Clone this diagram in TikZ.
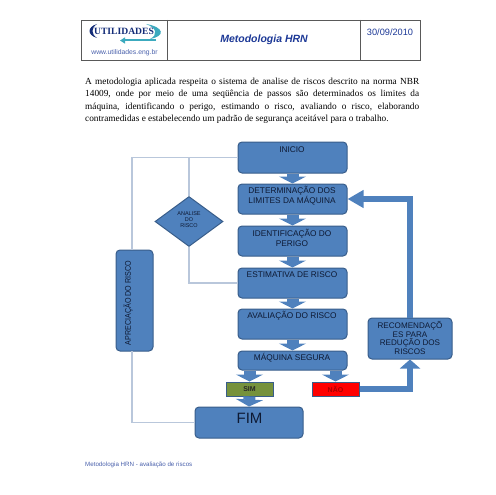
\documentclass[tikz,border=0pt]{standalone}
\usepackage{fontspec}
\setmainfont{Liberation Serif}
\setsansfont{Liberation Sans}
\usetikzlibrary{arrows.meta,shapes.geometric}
\definecolor{BoxBlue}{RGB}{79,129,189}
\definecolor{BoxEdge}{RGB}{56,93,138}
\definecolor{BoxText}{RGB}{14,26,52}
\definecolor{LinkGray}{RGB}{185,199,219}
\definecolor{SimGreen}{RGB}{118,146,60}
\definecolor{TitleBlue}{RGB}{28,56,150}
\definecolor{LogoNavy}{RGB}{20,45,120}
\definecolor{LogoTeal}{RGB}{60,170,190}
\tikzset{
  flowbox/.style={draw=BoxEdge, fill=BoxBlue, line width=1pt, rounded corners=4pt, minimum width=109pt, inner sep=0pt},
  flowtext/.style={font=\sffamily\fontsize{8.3}{10}\selectfont, text=BoxText, align=center, inner sep=0pt},
  answerbox/.style={draw=BoxEdge, line width=1pt, minimum width=47pt, minimum height=14pt, inner sep=0pt, font=\sffamily\bfseries\fontsize{7}{8}\selectfont},
  linkline/.style={draw=LinkGray, line width=1.1pt},
  stagearrow/.style={draw=BoxBlue, line width=12pt, -{Triangle[width=27pt,length=7pt]}},
  backarrow/.style={draw=BoxBlue, line width=5.5pt},
}

\begin{document}
\begin{tikzpicture}[x=1pt, y=-1pt]
      \useasboundingbox (0,0) rectangle (495,495);

      % page header
      \draw[draw=black!65, line width=0.9pt] (81,20) rectangle (420,60);
      \draw[draw=black!65, line width=0.9pt] (167,20) -- (167,60);
      \draw[draw=black!65, line width=0.9pt] (360,20) -- (360,60);
      \fill[LogoNavy] (97,24) .. controls (87,27) and (87,35) .. (97,38) .. controls (91,34) and (91,28) .. (97,24);
      \fill[LogoTeal] (146,24) .. controls (164,27) and (166,36) .. (150,39) .. controls (158,35) and (157,28) .. (146,24);
      \draw[LogoTeal, line width=2pt, -{Triangle[width=6pt,length=5pt]}] (156,40.5) -- (120,40.5);
      \node[font=\bfseries\fontsize{9.6}{12}\selectfont, text=LogoNavy, inner sep=0pt] (logo) at (124,31) {UTILIDADES};
      \node[font=\sffamily\fontsize{6.8}{8}\selectfont, text=TitleBlue!80, inner sep=0pt] (site) at (124.5,53) {www.utilidades.eng.br};
      \node[font=\sffamily\bfseries\itshape\fontsize{10.5}{12}\selectfont, text=TitleBlue, inner sep=0pt] (title) at (264,40) {Metodologia HRN};
      \node[font=\sffamily\fontsize{9.2}{11}\selectfont, text=TitleBlue, inner sep=0pt] (date) at (390,32) {30/09/2010};

      \node[font=\fontsize{9.3}{12.2}\selectfont, text width=334pt, align=justify, inner sep=0pt, anchor=north west] (intro) at (85,78)
        {A metodologia aplicada respeita o sistema de analise de riscos descrito na norma NBR\linebreak
         14009, onde por meio de uma seqüência de passos são determinados os limites da\linebreak
         máquina, identificando o perigo, estimando o risco, avaliando o risco, elaborando\linebreak
         contramedidas e estabelecendo um padrão de segurança aceitável para o trabalho.};

      % flow boxes
      \node[flowbox, minimum height=31pt] (inicio) at (292.5,157.5) {};
      \node[flowbox, minimum height=30pt] (limites) at (292.5,199) {};
      \node[flowbox, minimum height=30pt] (perigo) at (292.5,241) {};
      \node[flowbox, minimum height=30pt] (estimativa) at (292.5,283) {};
      \node[flowbox, minimum height=30pt] (avaliacao) at (292.5,324) {};
      \node[flowbox, minimum height=19pt] (segura) at (292.5,360.5) {};
      \node[flowbox, minimum width=108pt, minimum height=31pt] (fim) at (249,422.5) {};
      \node[flowbox, minimum width=37pt, minimum height=101pt] (apreciacao) at (134.5,300.5) {};
      \node[flowbox, minimum width=84pt, minimum height=41pt] (recomenda) at (410,338.5) {};
      \node[answerbox, fill=SimGreen, text=black!85] (sim) at (249.5,389) {SIM};
      \node[answerbox, fill=red, text=black!35!red] (nao) at (335.5,389) {NÃO};
      \node[draw=BoxEdge, fill=BoxBlue, line width=1pt, diamond, minimum width=68pt, minimum height=50pt, inner sep=0pt] (analise) at (189,221.5) {};

      % thin links
      \coordinate (apreciacaotop) at (132,250);
      \coordinate (apreciacaobot) at (132,351);
      \draw[linkline] (inicio.west) -| (apreciacaotop);
      \draw[linkline] (inicio.west) -| (analise.north);
      \draw[linkline] (analise.south) |- (estimativa.west);
      \draw[linkline] (apreciacaobot) |- (fim.west);

      % block arrows
      \draw[stagearrow] (inicio.south) -- (limites.north);
      \draw[stagearrow] (limites.south) -- (perigo.north);
      \draw[stagearrow] (perigo.south) -- (estimativa.north);
      \draw[stagearrow] (estimativa.south) -- (avaliacao.north);
      \draw[stagearrow] (avaliacao.south) -- (segura.north);
      \draw[stagearrow] (sim |- segura.south) -- (sim.north);
      \draw[stagearrow] (nao |- segura.south) -- (nao.north);
      \draw[stagearrow] (sim.south) -- (fim.north);
      \draw[backarrow, -{Triangle[width=20pt,length=9pt]}] (nao.east) -| (recomenda.south);
      \draw[backarrow, -{Triangle[width=17pt,length=16pt]}] (recomenda.north) |- (limites.east);

      % texts of the boxes
      \node[flowtext] (inicio text) at (292,149.5) {INICIO};
      \node[flowtext] (limites text) at (292,196) {DETERMINAÇÃO DOS\\LIMITES DA MÁQUINA};
      \node[flowtext] (perigo text) at (292,237.5) {IDENTIFICAÇÃO DO\\PERIGO};
      \node[flowtext] (estimativa text) at (292,275) {ESTIMATIVA DE RISCO};
      \node[flowtext] (avaliacao text) at (292,316) {AVALIAÇÃO DO RISCO};
      \node[flowtext] (segura text) at (292,358) {MÁQUINA SEGURA};
      \node[font=\sffamily\fontsize{15}{17}\selectfont, text=BoxText, inner sep=0pt] (fim text) at (249.5,418) {FIM};
      \node[flowtext, rotate=90, xscale=0.86] (apreciacao text) at (128,303) {APRECIAÇÃO DO RISCO};
      \node[font=\sffamily\fontsize{5.5}{6}\selectfont, text=BoxText, align=center, inner sep=0pt] (analise text) at (189,220) {ANALISE\\DO\\RISCO};
      \node[font=\sffamily\fontsize{8.1}{8.6}\selectfont, text=BoxText, align=center, inner sep=0pt] (recomenda text) at (410,338)
        {RECOMENDAÇÕ\\ES PARA\\REDUÇÃO DOS\\RISCOS};

      \node[font=\sffamily\fontsize{6.2}{7}\selectfont, text=TitleBlue!80, inner sep=0pt, anchor=west] (footer) at (85,465) {Metodologia HRN - avaliação de riscos};
    \end{tikzpicture}
\end{document}
